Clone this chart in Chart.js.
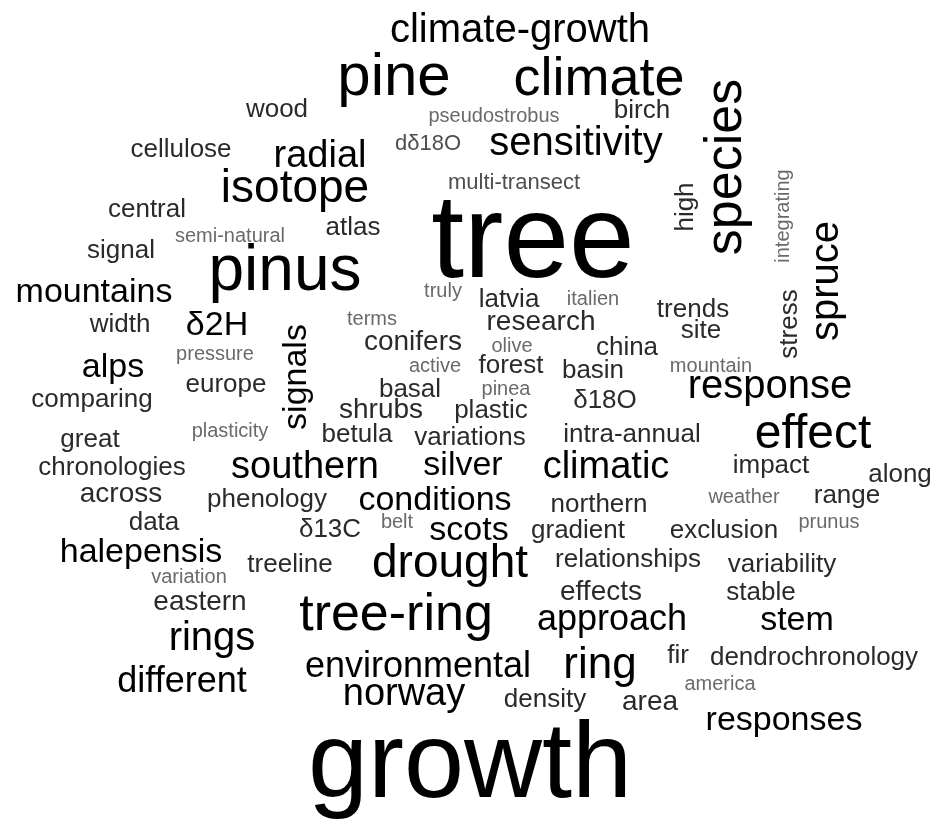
<!DOCTYPE html>
<html>
<head>
<meta charset="utf-8">
<script src="https://cdn.jsdelivr.net/npm/chart.js@4.4.1/dist/chart.umd.min.js"></script>
<style>
  html, body { margin: 0; padding: 0; background: #fff; }
  #wrap { width: 936px; height: 821px; }
</style>
</head>
<body>
<div id="wrap"><canvas id="cloud"></canvas></div>
<script>
// word list and term counts (read from the cloud)
const words = [
    "climate-growth", "pine", "climate", "wood", "pseudostrobus", "birch", "cellulose", "radial",
    "dδ18O", "sensitivity", "species", "isotope", "multi-transect", "central", "atlas", "semi-natural",
    "high", "integrating", "tree", "signal", "pinus", "spruce", "mountains", "truly",
    "latvia", "italien", "trends", "stress", "width", "δ2H", "terms", "research",
    "site", "pressure", "conifers", "olive", "china", "alps", "signals", "active",
    "forest", "basin", "mountain", "europe", "comparing", "basal", "pinea", "δ18O",
    "response", "shrubs", "plastic", "plasticity", "great", "betula", "variations", "intra-annual",
    "effect", "chronologies", "southern", "silver", "climatic", "impact", "along", "across",
    "phenology", "conditions", "northern", "weather", "range", "data", "δ13C", "belt",
    "scots", "gradient", "exclusion", "prunus", "halepensis", "treeline", "variation", "drought",
    "relationships", "variability", "eastern", "tree-ring", "effects", "stable", "approach", "stem",
    "rings", "fir", "dendrochronology", "environmental", "ring", "different", "america", "norway",
    "density", "area", "responses", "growth"
];
const counts = [
    20, 30, 27, 13, 10, 13, 13, 19,
    11, 20, 26, 23, 11, 13, 13, 10,
    13, 10, 59, 13, 32, 20, 17, 10,
    13, 10, 13, 13, 13, 17, 10, 14,
    13, 10, 14, 10, 13, 17, 17, 10,
    13, 13, 10, 13, 13, 13, 10, 13,
    20, 14, 13, 10, 13, 13, 13, 13,
    24, 13, 19, 17, 19, 13, 13, 14,
    13, 17, 13, 10, 13, 13, 13, 10,
    17, 13, 13, 10, 17, 13, 10, 23,
    13, 13, 14, 26, 14, 13, 18, 17,
    20, 13, 13, 18, 22, 18, 10, 19,
    13, 14, 17, 54
];
// cloud layout coordinates (x, baseline y) and which words run upward
const cloudX = [
    520, 394, 599, 277, 494, 642, 181, 320,
    428, 576, 741, 295, 514, 147, 353, 230,
    693, 789, 533, 121, 285, 838, 94, 443,
    509, 593, 693, 797, 120, 217, 372, 541,
    701, 215, 413, 512, 627, 113, 306, 435,
    511, 593, 711, 226, 92, 410, 506, 605,
    770, 381, 491, 230, 90, 357, 470, 632,
    813, 112, 305, 463, 606, 771, 900, 121,
    267, 435, 599, 744, 847, 154, 330, 397,
    469, 578, 724, 829, 141, 290, 189, 450,
    628, 782, 200, 396, 601, 761, 612, 797,
    212, 678, 814, 418, 600, 182, 720, 404,
    545, 650, 784, 470
];
const cloudY = [
    42, 95, 95, 117, 122, 118, 157, 167,
    150, 155, 167, 202, 189, 217, 235, 242,
    207, 216, 277, 258, 290, 281, 302, 297,
    307, 305, 317, 324, 332, 335, 325, 330,
    338, 360, 350, 352, 355, 377, 377, 372,
    373, 378, 372, 392, 407, 397, 395, 408,
    398, 418, 418, 437, 447, 442, 445, 442,
    448, 475, 478, 475, 478, 473, 482, 502,
    507, 510, 512, 503, 503, 530, 537, 528,
    540, 538, 538, 528, 562, 572, 583, 577,
    567, 572, 610, 630, 600, 600, 630, 630,
    650, 663, 665, 677, 678, 692, 690, 705,
    707, 710, 730, 797
];
const upright = ["species", "high", "integrating", "spruce", "stress", "signals"];

function wordColor(n) {
    if (n >= 16) return "#000000";
    if (n >= 13) return "#2a2a2a";
    if (n >= 11) return "#4e4e4e";
    return "#6a6a6a";
}

// draws each word at its point position
const wordPlugin = {
    id: "wordLabels",
    afterDatasetsDraw(chart) {
        const ctx = chart.ctx;
        const meta = chart.getDatasetMeta(0);
        ctx.save();
        ctx.textAlign = "center";
        ctx.textBaseline = "alphabetic";
        meta.data.forEach((pt, i) => {
            const size = counts[i] * 2;
            ctx.font = size + 'px "Liberation Sans", Arial, Helvetica, sans-serif';
            ctx.fillStyle = wordColor(counts[i]);
            ctx.save();
            ctx.translate(pt.x, pt.y);
            if (upright.includes(words[i])) ctx.rotate(-Math.PI / 2);
            ctx.fillText(words[i], 0, 0);
            ctx.restore();
        });
        ctx.restore();
    }
};

const ctx = document.getElementById("cloud").getContext("2d");
new Chart(ctx, {
    type: "scatter",
    data: {
        datasets: [{
            label: "words",
            data: words.map((w, i) => ({ x: cloudX[i], y: cloudY[i] })),
            pointRadius: 0,
            pointHoverRadius: 0
        }]
    },
    options: {
        responsive: true,
        maintainAspectRatio: false,
        animation: false,
        layout: { padding: 0 },
        scales: {
            x: { type: "linear", min: 0, max: 936, display: false },
            y: { type: "linear", min: 0, max: 821, reverse: true, display: false }
        },
        plugins: {
            legend: { display: false },
            tooltip: { enabled: false }
        }
    },
    plugins: [wordPlugin]
});
</script>
</body>
</html>
